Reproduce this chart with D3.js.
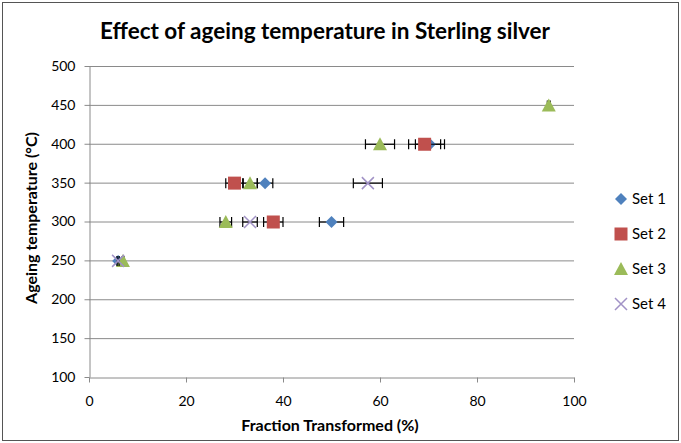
<!DOCTYPE html>
<html>
<head>
<meta charset="utf-8">
<script src="https://cdn.jsdelivr.net/npm/d3@7"></script>
<style>
  body { margin: 0; background: #fff; }
  text { font-family: Lato, "Open Sans", sans-serif; fill: #000; }
</style>
</head>
<body>
<div id="chart"></div>
<script>
// data: fraction transformed (%) at each ageing temperature
const seriesNames = ["Set 1", "Set 2", "Set 3", "Set 4"];
const set1Temp = [250, 300, 350, 400];
const set1Frac = [6, 50, 36.3, 70.3];
const set1Err = [0.2, 2.5, 1.6, 3];
const set2Temp = [300, 350, 400];
const set2Frac = [38, 30, 69.2];
const set2Err = [2, 1.8, 3.3];
const set3Temp = [250, 300, 350, 400, 450];
const set3Frac = [7, 28.2, 33.2, 60, 94.8];
const set3Err = [0.2, 1.2, 1.5, 3, 0.3];
const set4Temp = [250, 300, 350];
const set4Frac = [6, 33.2, 57.5];
const set4Err = [0.2, 1.5, 3];
const xTicks = [0, 20, 40, 60, 80, 100];
const yTicks = [100, 150, 200, 250, 300, 350, 400, 450, 500];

const W = 681, H = 443;
const margin = { top: 66, right: 107, bottom: 66, left: 89 };
const width = W - margin.left - margin.right,
  height = H - margin.top - margin.bottom;

const svg = d3.select("#chart").append("svg")
  .attr("width", W).attr("height", H);

// outer chart border
svg.append("rect")
  .attr("x", 2.5).attr("y", 2.5)
  .attr("width", W - 5).attr("height", H - 5)
  .attr("fill", "#fff").attr("stroke", "#555").attr("stroke-width", 1);

const g = svg.append("g").attr("transform", `translate(${margin.left},${margin.top})`);

const x = d3.scaleLinear().domain([0, 100]).range([0, width]);
const y = d3.scaleLinear().domain([100, 500]).range([height, 0]);

// gridlines
g.selectAll(".grid").data(yTicks.slice(1)).enter().append("line")
  .attr("x1", 0).attr("x2", width)
  .attr("y1", d => y(d) + 0.5).attr("y2", d => y(d) + 0.5)
  .attr("stroke", "#8a8a8a").attr("stroke-width", 1);

// axes
const xAxis = g.append("g").attr("transform", `translate(0,${height + 0.5})`)
  .call(d3.axisBottom(x).tickValues(xTicks).tickSize(5).tickSizeOuter(0));
const yAxis = g.append("g").attr("transform", "translate(0.5,0)")
  .call(d3.axisLeft(y).tickValues(yTicks).tickSize(5).tickSizeOuter(0));
[xAxis, yAxis].forEach(a => {
  a.select(".domain").attr("stroke", "#8a8a8a");
  a.selectAll(".tick line").attr("stroke", "#8a8a8a");
  a.selectAll(".tick text").style("font-family", "Lato, sans-serif").style("font-size", "14px").attr("fill", "#111");
});
xAxis.selectAll(".tick text").attr("dy", "1.1em").attr("y", 13);
yAxis.selectAll(".tick text").attr("x", -14);

const series = [
  { name: seriesNames[0], t: set1Temp, f: set1Frac, e: set1Err, color: "#4f81bd", shape: "diamond" },
  { name: seriesNames[1], t: set2Temp, f: set2Frac, e: set2Err, color: "#c0504d", shape: "square" },
  { name: seriesNames[2], t: set3Temp, f: set3Frac, e: set3Err, color: "#9bbb59", shape: "triangle" },
  { name: seriesNames[3], t: set4Temp, f: set4Frac, e: set4Err, color: "#a192c6", shape: "cross" }
];

function marker(sel, shape, color) {
  if (shape === "diamond") {
    sel.append("path").attr("d", "M0,-6L6,0L0,6L-6,0Z").attr("fill", color);
  } else if (shape === "square") {
    sel.append("rect").attr("x", -6.5).attr("y", -6.5).attr("width", 13).attr("height", 13).attr("fill", color);
  } else if (shape === "triangle") {
    sel.append("path").attr("d", "M0,-7L7,6L-7,6Z").attr("fill", color);
  } else {
    sel.append("path").attr("d", "M-6,-6L6,6M-6,6L6,-6").attr("stroke", color).attr("stroke-width", 1.5).attr("fill", "none");
  }
}

series.forEach(s => {
  const pts = s.t.map((t, i) => ({ t: t, f: s.f[i], e: s.e[i] }));
  // horizontal error bars
  const eb = g.append("g");
  pts.forEach(p => {
    const yy = y(p.t) + 0.5;
    eb.append("line").attr("x1", x(p.f - p.e)).attr("x2", x(p.f + p.e))
      .attr("y1", yy).attr("y2", yy).attr("stroke", "#000").attr("stroke-width", 1.2);
    [p.f - p.e, p.f + p.e].forEach(v => {
      eb.append("line").attr("x1", x(v)).attr("x2", x(v))
        .attr("y1", yy - 5).attr("y2", yy + 5).attr("stroke", "#000").attr("stroke-width", 1.2);
    });
  });
  pts.forEach(p => {
    const m = g.append("g").attr("transform", `translate(${x(p.f)},${y(p.t) + 0.5})`);
    marker(m, s.shape, s.color);
  });
});

// legend
series.forEach((s, i) => {
  const ly = 199 + i * 35;
  const m = svg.append("g").attr("transform", `translate(621,${ly})`);
  marker(m, s.shape, s.color);
  svg.append("text").attr("x", 632).attr("y", ly).attr("dy", "0.36em")
    .style("font-size", "15px").text(s.name);
});

// title and axis labels
svg.append("text").attr("x", 325).attr("y", 39).attr("text-anchor", "middle")
  .style("font-size", "22.5px").style("font-weight", "bold")
  .text("Effect of ageing temperature in Sterling silver");
svg.append("text").attr("x", 330).attr("y", 431).attr("text-anchor", "middle")
  .style("font-size", "16px").style("font-weight", "bold")
  .text("Fraction Transformed (%)");
svg.append("text").attr("transform", "translate(37,218) rotate(-90)").attr("text-anchor", "middle")
  .style("font-size", "16px").style("font-weight", "bold")
  .text("Ageing temperature (°C)");
</script>
</body>
</html>
